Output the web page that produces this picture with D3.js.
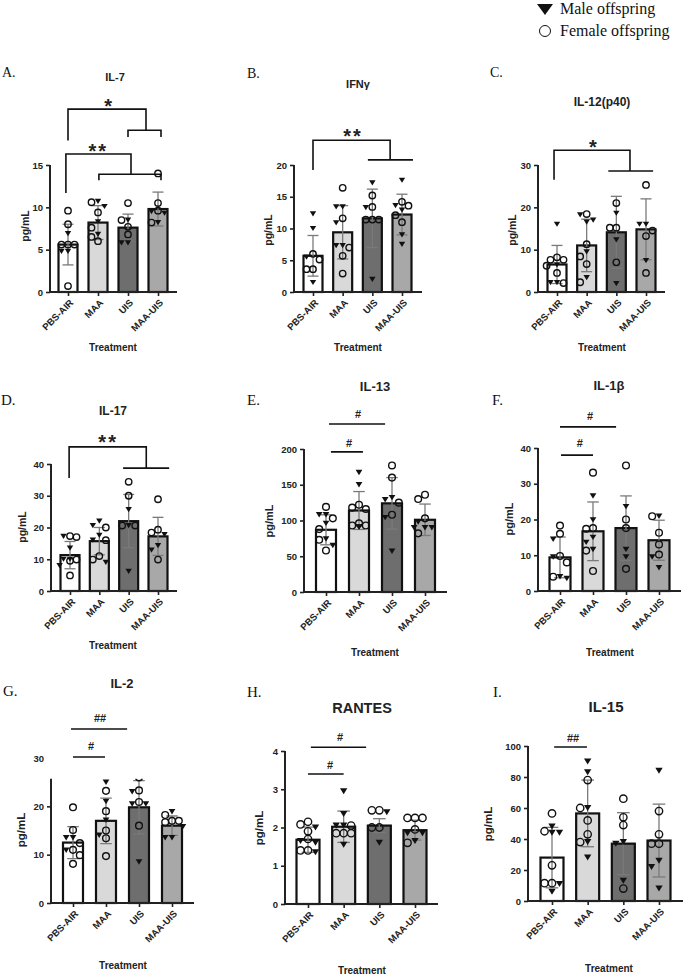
<!DOCTYPE html>
<html><head><meta charset="utf-8">
<script src="https://cdn.jsdelivr.net/npm/d3@7"></script>
<style>body{margin:0;background:#fff} svg{display:block}</style>
</head><body><svg id="c" width="685" height="978"></svg>
<script>
const categories = ["PBS-AIR", "MAA", "UIS", "MAA-UIS"];

// IL-7
const il7Mean = [5.6, 8.2, 7.6, 9.8];
const il7SD = [2.4, 2.0, 1.6, 2.0];
const il7Male = [[6.9, 4.8, 4.8], [10.7, 10.1, 8.3, 6.8], [8.5, 5.8, 5.8], [9.3, 9.5, 8.2]];
const il7Female = [[9.6, 8.0, 5.6, 5.6, 5.6, 0.7], [10.6, 9.4, 7.6, 6.5, 6.0], [10.5, 8.5, 7.7, 6.8], [14.0, 9.6, 10.5, 8.2]];
const il7Ticks = [0, 5, 10, 15];

// IFN-gamma
const ifngMean = [5.7, 9.4, 11.6, 12.2];
const ifngSD = [3.2, 4.2, 4.6, 3.2];
const ifngMale = [[12.3, 10.0, 5.5, 1.5], [13.4, 13.4, 10.9, 7.3, 7.3], [17.2, 13.3, 2.0], [17.6, 13.6, 12.9, 9.0, 7.5]];
const ifngFemale = [[6.0, 5.1, 3.6, 3.6], [16.4, 11.6, 7.0, 5.7, 2.9], [15.2, 13.4, 11.4, 11.4, 11.4], [14.2, 13.6, 12.1, 11.0]];
const ifngTicks = [0, 5, 10, 15, 20];

// IL-12(p40)
const il12Mean = [6.5, 11.0, 14.1, 14.8];
const il12SD = [4.5, 6.2, 8.5, 7.2];
const il12Male = [[16.0, 6.4, 2.2, 2.2], [18.2, 16.5, 17.0, 9.5, 3.4], [18.6, 12.3, 2.0], [16.0, 16.0, 7.4]];
const il12Female = [[8.2, 7.6, 7.6, 6.2, 4.5, 2.1], [18.4, 11.3, 8.4, 6.6, 2.3], [21.0, 15.2, 15.2, 7.0], [25.3, 13.2, 14.5, 4.5]];
const il12Ticks = [0, 10, 20, 30];

// IL-17
const il17Mean = [11.3, 15.7, 22.0, 17.2];
const il17SD = [4.3, 4.3, 8.4, 6.0];
const il17Male = [[17.2, 13.5, 10.0, 10.0, 8.0], [22.0, 20.6, 17.5, 16.0, 9.0], [25.6, 20.6, 6.2], [17.8, 14.3, 12.9]];
const il17Female = [[17.0, 17.3, 9.9, 9.5, 4.9], [20.0, 16.0, 11.0, 9.9], [34.4, 30.0, 20.6, 20.6], [28.9, 19.3, 18.4, 9.9]];
const il17Ticks = [0, 10, 20, 30, 40];

// IL-13
const il13Mean = [87, 114, 124, 101];
const il13SD = [21, 26.5, 36, 22];
const il13Male = [[108, 108, 96, 74, 65], [167, 150, 91, 91], [132, 129, 104, 57], [98, 90, 90, 90]];
const il13Female = [[119, 103, 88, 73, 58], [122, 118, 116, 96, 93, 93], [177, 160, 125, 108], [136, 130, 103, 82]];
const il13Ticks = [0, 50, 100, 150, 200];

// IL-1beta
const il1bMean = [9.4, 16.7, 17.6, 14.2];
const il1bSD = [5.7, 8.2, 9.0, 5.6];
const il1bMale = [[14.5, 9.5, 3.5, 4.0], [26.6, 19.9, 15.0, 13.6, 11.6], [23.6, 11.6, 9.5], [20.9, 9.5, 6.5]];
const il1bFemale = [[18.3, 16.0, 9.8, 8.0, 4.0], [33.1, 17.6, 17.4, 11.3, 5.6], [35.1, 20.0, 17.6, 6.2], [20.9, 16.3, 13.0, 10.2]];
const il1bTicks = [0, 10, 20, 30, 40];

// IL-2
const il2Mean = [12.5, 17.0, 19.8, 16.0];
const il2SD = [3.3, 4.7, 5.5, 2.0];
const il2Male = [[13.5, 13.5, 10.9], [25.0, 21.0, 17.1, 14.0], [23.0, 20.5, 20.5, 8.5], [18.9, 15.8, 13.5, 13.5]];
const il2Female = [[19.8, 15.1, 12.4, 11.0, 9.9, 8.1], [23.2, 19.0, 15.0, 13.4, 9.7], [26.0, 23.3, 20.9, 16.0], [18.2, 17.0, 17.0, 16.7]];
const il2Ticks = [0, 10, 20, 30];

// RANTES
const rantesMean = [1.68, 2.02, 2.05, 1.93];
const rantesSD = [0.33, 0.41, 0.18, 0.26];
const rantesMale = [[2.0, 1.6, 1.65, 1.35], [2.95, 2.35, 2.05, 2.05, 1.55], [2.4, 1.6], [1.85, 1.85, 1.65]];
const rantesFemale = [[2.15, 2.08, 1.9, 1.7, 1.4, 1.4], [2.05, 1.85, 1.85, 1.85], [2.45, 2.45, 2.0, 2.0], [2.25, 2.25, 2.25, 1.95, 1.6]];
const rantesTicks = [0, 1, 2, 3, 4];

// IL-15
const il15Mean = [28, 56.5, 37, 39];
const il15SD = [19.5, 21.5, 20, 23.5];
const il15Male = [[48, 44, 44, 11, 6], [90, 83, 60, 38, 28], [38, 37, 13], [84, 26, 22, 8]];
const il15Female = [[56.5, 45, 23, 11.5, 11.5], [78, 60, 52, 43, 38], [66, 54, 49, 8], [58, 43, 37, 37]];
const il15Ticks = [0, 20, 40, 60, 80, 100];

// significance annotations: x in category index units, y in data units
const il7Sig = {paths: [[[0,17.9],[0,21.6],[2.6,21.6],[2.6,19.1]], [[2,18.3],[2,19.1],[3.1,19.1],[3.1,18.3]],
                        [[-0.07,11.7],[-0.07,16.3],[2.1,16.3],[2.1,13.9]], [[1.03,13.2],[1.03,13.9],[3.1,13.9],[3.1,13.2]]],
                texts: [["*",1.34,22.5],["**",1.01,17.2]]};
const ifngSig = {paths: [[[0,19.2],[0,23.9],[2.6,23.9],[2.6,20.8]], [[1.85,20.8],[3.37,20.8]]], texts: [["**",1.35,25.2]]};
const il12Sig = {paths: [[[-0.1,26.5],[-0.1,33.5],[2.46,33.5],[2.46,28.6]], [[1.73,28.6],[3.24,28.6]]], texts: [["*",1.21,35.4]]};
const il17Sig = {paths: [[[-0.03,35.6],[-0.03,45.4],[2.6,45.4],[2.6,38.7]], [[1.81,38.7],[3.38,38.7]]], texts: [["**",1.3,48.2]]};
const il13Sig = {paths: [[[0.09,235],[1.79,235]], [[0.15,196],[1.12,196]]], texts: [["#",0.97,249],["#",0.7,208]]};
const il1bSig = {paths: [[[0,45.9],[1.7,45.9]], [[0.03,38.0],[1.0,38.0]]], texts: [["#",0.91,49],["#",0.6,41.4]]};
const il2Sig = {paths: [[[-0.06,36.0],[1.64,36.0]], [[0,30.2],[0.97,30.2]]], texts: [["##",0.82,38.3],["#",0.55,32.5]]};
const rantesSig = {paths: [[[0.08,4.10],[1.63,4.10]], [[0,3.40],[1.0,3.40]]], texts: [["#",0.9,4.37],["#",0.62,3.63]]};
const il15Sig = {paths: [[[0.06,99.4],[0.98,99.4]]], texts: [["##",0.59,105]]};

const SANS = "Arial, 'Liberation Sans', Helvetica, sans-serif";
const SERIF = "'Times New Roman', 'Liberation Serif', serif";
const barFill = ["#ffffff", "#d9d9d9", "#6e6e6e", "#a8a8a8"];

const panels = [
  {letter:"A.", lp:[2,77], ls:14, title:"IL-7", tp:[115,81], ts:11, mean:il7Mean, sd:il7SD, male:il7Male, female:il7Female, ticks:il7Ticks, sig:il7Sig,
   axisX:50, axisEnd:177, xFirst:68, xLast:158, bw:19, yBase:292, yTop:165, yMax:15, ylab:[25,226], yls:10.5, treat:[113,351], ms:1},
  {letter:"B.", lp:[247,78], ls:14, title:"IFNγ", tp:[358,88], ts:11, mean:ifngMean, sd:ifngSD, male:ifngMale, female:ifngFemale, ticks:ifngTicks, sig:ifngSig,
   axisX:294, axisEnd:422, xFirst:313, xLast:402, bw:19, yBase:292, yTop:165, yMax:20, ylab:[268,230], yls:10.5, treat:[358,351], ms:1},
  {letter:"C.", lp:[490,77], ls:14, title:"IL-12(p40)", tp:[602,106], ts:12, mean:il12Mean, sd:il12SD, male:il12Male, female:il12Female, ticks:il12Ticks, sig:il12Sig,
   axisX:538, axisEnd:665, xFirst:557, xLast:646, bw:19, yBase:292, yTop:165, yMax:30, ylab:[512,230], yls:10.5, treat:[602,351], ms:1},
  {letter:"D.", lp:[1,405], ls:15, title:"IL-17", tp:[113,415], ts:12, mean:il17Mean, sd:il17SD, male:il17Male, female:il17Female, ticks:il17Ticks, sig:il17Sig,
   axisX:51, axisEnd:177, xFirst:70, xLast:158, bw:19, yBase:591, yTop:464, yMax:40, ylab:[22,527], yls:10.5, treat:[113,649], ms:1},
  {letter:"E.", lp:[247,405], ls:15, title:"IL-13", tp:[375,391], ts:13, mean:il13Mean, sd:il13SD, male:il13Male, female:il13Female, ticks:il13Ticks, sig:il13Sig,
   axisX:304, axisEnd:447, xFirst:326, xLast:425, bw:20, yBase:592, yTop:449, yMax:200, ylab:[269,521], yls:11, treat:[375,656], ms:1.05},
  {letter:"F.", lp:[492,405], ls:15, title:"IL-1β", tp:[609,390], ts:13, mean:il1bMean, sd:il1bSD, male:il1bMale, female:il1bFemale, ticks:il1bTicks, sig:il1bSig,
   axisX:538, axisEnd:681, xFirst:560, xLast:659, bw:21, yBase:591, yTop:448, yMax:40, ylab:[509,519], yls:11, treat:[610,656], ms:1.05},
  {letter:"G.", lp:[3,696], ls:15, title:"IL-2", tp:[122,688], ts:13, mean:il2Mean, sd:il2SD, male:il2Male, female:il2Female, ticks:il2Ticks, sig:il2Sig,
   axisX:51, axisEnd:194, xFirst:73, xLast:172, bw:20, yBase:903, yTop:758, yMax:30, axisTop:25.7, ylab:[21,830], yls:11.5, treat:[123,969], ms:1.05},
  {letter:"H.", lp:[247,697], ls:15, title:"RANTES", tp:[362,713], ts:14.5, mean:rantesMean, sd:rantesSD, male:rantesMale, female:rantesFemale, ticks:rantesTicks, sig:rantesSig,
   axisX:285, axisEnd:438, xFirst:308, xLast:415, bw:23, yBase:904, yTop:751, yMax:4, ylab:[259,828], yls:11.5, treat:[362,974], ms:1.15},
  {letter:"I.", lp:[493,697], ls:15, title:"IL-15", tp:[606,712], ts:15, mean:il15Mean, sd:il15SD, male:il15Male, female:il15Female, ticks:il15Ticks, sig:il15Sig,
   axisX:528, axisEnd:683, xFirst:552, xLast:659, bw:23, yBase:901, yTop:746, yMax:100, ylab:[488,824], yls:11.5, treat:[609,972], ms:1.15}
];

const svg = d3.select("#c");
svg.append("rect").attr("width",685).attr("height",978).attr("fill","#fff");

function swarm(vals, y, s) {
  const sorted = vals.slice().sort((a, b) => b.v - a.v);
  const placed = [];
  const cands = [0, -1, 1, -1.6, 1.6];
  sorted.forEach(d => {
    const py = y(d.v);
    let best = 0;
    for (const c of cands) {
      const px = c * s;
      if (placed.every(q => Math.hypot(q.px - px, q.py - py) >= s)) { best = px; break; }
    }
    d.px = best; d.py = py; placed.push(d);
  });
  return sorted;
}

panels.forEach((p, pi) => {
  const g = svg.append("g");
  const y = d3.scaleLinear().domain([0, p.yMax]).range([p.yBase, p.yTop]);
  const x = d3.scalePoint().domain(categories).range([p.xFirst, p.xLast]);
  const step = x.step();
  const xi = i => p.xFirst + i * step;
  const top = p.axisTop !== undefined ? p.axisTop : p.yMax;

  const clipId = "clip" + pi;
  svg.append("clipPath").attr("id", clipId).append("rect")
    .attr("x", p.axisX - 5).attr("y", y(top)).attr("width", p.axisEnd - p.axisX + 30).attr("height", p.yBase - y(top) + 5);
  const plot = g.append("g").attr("clip-path", `url(#${clipId})`);

  // bars
  plot.selectAll("rect.bar").data(p.mean).join("rect").attr("class", "bar")
    .attr("x", (d, i) => x(categories[i]) - p.bw / 2)
    .attr("y", d => y(d))
    .attr("width", p.bw)
    .attr("height", d => y(0) - y(d))
    .attr("fill", (d, i) => barFill[i])
    .attr("stroke", "#111").attr("stroke-width", 2.2);

  // error bars
  const cap = 5.5 * p.ms;
  const eb = plot.selectAll("g.eb").data(p.mean).join("g").attr("class", "eb")
    .attr("stroke", "#7a7a7a").attr("stroke-width", 1.3).attr("fill", "none");
  eb.append("line").attr("x1", (d, i) => x(categories[i])).attr("x2", (d, i) => x(categories[i]))
    .attr("y1", (d, i) => y(d - p.sd[i])).attr("y2", (d, i) => y(d + p.sd[i]));
  eb.append("line").attr("x1", (d, i) => x(categories[i]) - cap).attr("x2", (d, i) => x(categories[i]) + cap)
    .attr("y1", (d, i) => y(d + p.sd[i])).attr("y2", (d, i) => y(d + p.sd[i]));
  eb.append("line").attr("x1", (d, i) => x(categories[i]) - cap).attr("x2", (d, i) => x(categories[i]) + cap)
    .attr("y1", (d, i) => y(d - p.sd[i])).attr("y2", (d, i) => y(d - p.sd[i]));

  // points
  categories.forEach((c, i) => {
    const vals = p.male[i].map(v => ({v, sex: "m"})).concat(p.female[i].map(v => ({v, sex: "f"})));
    const pts = swarm(vals, y, 6.5 * p.ms);
    const cx = x(c);
    pts.forEach(d => {
      if (d.sex === "m") {
        const w = 3.2 * p.ms, h = 5.2 * p.ms;
        plot.append("path")
          .attr("d", `M${cx + d.px - w},${d.py - h / 2}L${cx + d.px + w},${d.py - h / 2}L${cx + d.px},${d.py + h / 2}Z`)
          .attr("fill", "#111");
      } else {
        plot.append("circle").attr("cx", cx + d.px).attr("cy", d.py).attr("r", 3.2 * p.ms)
          .attr("fill", "none").attr("stroke", "#111").attr("stroke-width", 1.4);
      }
    });
  });

  // y axis
  const yAxis = d3.axisLeft(y).tickValues(p.ticks).tickFormat(d3.format("~g")).tickSize(4).tickSizeOuter(0).tickPadding(3);
  const ga = g.append("g").attr("transform", `translate(${p.axisX},0)`).call(yAxis);
  ga.select(".domain").remove();
  ga.selectAll(".tick line").attr("stroke", "#222").attr("stroke-width", 1.6)
    .attr("display", d => d > top ? "none" : null);
  ga.selectAll(".tick text").attr("font-family", SANS).attr("font-weight", "bold").attr("font-size", 9.5).attr("fill", "#222");
  g.append("line").attr("x1", p.axisX).attr("x2", p.axisX).attr("y1", y(0) + 1).attr("y2", y(top))
    .attr("stroke", "#222").attr("stroke-width", 2);

  // x axis
  const xAxis = d3.axisBottom(x).tickSize(4).tickSizeOuter(0);
  const gx = g.append("g").attr("transform", `translate(0,${y(0)})`).call(xAxis);
  gx.select(".domain").remove();
  gx.selectAll(".tick line").attr("stroke", "#222").attr("stroke-width", 1.6);
  gx.selectAll(".tick text")
    .attr("x", 0).attr("y", 0).attr("dy", "0.35em")
    .attr("transform", "translate(3,9) rotate(-45)")
    .attr("text-anchor", "end")
    .attr("font-family", SANS).attr("font-weight", "bold").attr("font-size", 9.5).attr("fill", "#222");
  g.append("line").attr("x1", p.axisX - 1).attr("x2", p.axisEnd).attr("y1", y(0)).attr("y2", y(0))
    .attr("stroke", "#222").attr("stroke-width", 2);

  // significance
  const line = d3.line().x(d => xi(d[0])).y(d => y(d[1]));
  g.selectAll("path.sig").data(p.sig.paths).join("path").attr("class", "sig")
    .attr("d", line).attr("fill", "none").attr("stroke", "#111").attr("stroke-width", 1.6);
  g.selectAll("text.sig").data(p.sig.texts).join("text").attr("class", "sig")
    .attr("x", d => xi(d[1])).attr("y", d => y(d[2]))
    .attr("dy", d => d[0].includes("*") ? "0.57em" : "0.36em")
    .attr("text-anchor", "middle")
    .attr("font-family", SANS).attr("font-weight", "bold")
    .attr("font-size", d => d[0].includes("*") ? 20 : 11)
    .attr("letter-spacing", d => d[0] === "**" ? 2 : 0)
    .attr("fill", "#222")
    .text(d => d[0]);

  // labels
  g.append("text").attr("x", p.lp[0]).attr("y", p.lp[1]).attr("font-family", SERIF).attr("font-size", p.ls).attr("fill", "#111").text(p.letter);
  g.append("text").attr("x", p.tp[0]).attr("y", p.tp[1]).attr("text-anchor", "middle").attr("font-family", SANS)
    .attr("font-weight", "bold").attr("font-size", p.ts).attr("fill", "#222").text(p.title);
  g.append("text").attr("transform", `translate(${p.ylab[0]},${p.ylab[1]}) rotate(-90)`).attr("dy", "0.35em")
    .attr("text-anchor", "middle").attr("font-family", SANS).attr("font-weight", "bold").attr("font-size", p.yls).attr("fill", "#222").text("pg/mL");
  g.append("text").attr("x", p.treat[0]).attr("y", p.treat[1]).attr("text-anchor", "middle").attr("font-family", SANS)
    .attr("font-weight", "bold").attr("font-size", 10).attr("fill", "#222").text("Treatment");
});

// legend
const lg = svg.append("g");
lg.append("path").attr("d", "M537,4L553,4L545,15Z").attr("fill", "#111");
lg.append("text").attr("x", 560).attr("y", 14).attr("font-family", SERIF).attr("font-size", 16).attr("fill", "#111").text("Male offspring");
lg.append("circle").attr("cx", 545).attr("cy", 31).attr("r", 5.5).attr("fill", "none").attr("stroke", "#111").attr("stroke-width", 1);
lg.append("text").attr("x", 560).attr("y", 36).attr("font-family", SERIF).attr("font-size", 16).attr("fill", "#111").text("Female offspring");
</script>
</body></html>
